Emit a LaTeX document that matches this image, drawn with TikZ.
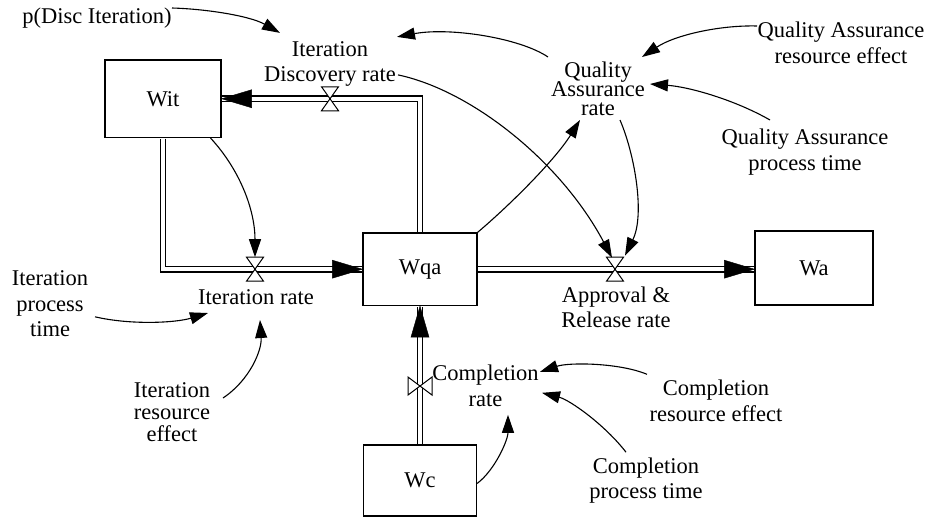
\documentclass[tikz,border=0pt]{standalone}
\usepackage{fontspec}
\setmainfont{Liberation Serif}
\usetikzlibrary{arrows.meta,calc}
\newcommand\mytightls{\lineskiplimit=-30pt\relax}
\tikzset{
  lbl/.style={inner sep=0pt, align=center, font=\fontsize{22.5pt}{26pt}\selectfont},
  stock/.style={draw, line width=1.2pt, inner sep=0pt, font=\fontsize{22.5pt}{26pt}\selectfont},
  pipe/.style={draw, double, double distance=4.5pt, line width=1.2pt, line join=miter, shorten <=0.6pt, shorten >=0.6pt},
  flowhead/.style={fill=black, draw=black, line width=0.4pt, line join=miter},
  link/.style={line width=1.1pt, -{Triangle[length=18pt,width=12pt]}},
  valvestyle/.style={draw, fill=white, line width=1pt, line join=miter},
  valveh/.pic={\draw[valvestyle] (-8.5,-12) -- (8.5,-12) -- (-8.5,12) -- (8.5,12) -- cycle;},
  valvev/.pic={\draw[valvestyle] (-12,-9) -- (-12,9) -- (12,-9) -- (12,9) -- cycle;}
}
\begin{document}
\begin{tikzpicture}[x=1pt,y=-1pt]
\useasboundingbox (0,0) rectangle (930,517);

% stocks
\node[stock, minimum width=116pt, minimum height=77.5pt] (wit) at (163,98.75) {Wit};
\node[stock, minimum width=114pt, minimum height=72.5pt] (wqa) at (420,269.2) {Wqa};
\node[stock, minimum width=118pt, minimum height=74pt] (wa) at (814,268) {Wa};
\node[stock, minimum width=113pt, minimum height=71pt] (wc) at (420,480.5) {Wc};

% valves positions
\coordinate (vd) at (330,98.75);
\coordinate (vi) at (255,269.2);
\coordinate (va) at (615,269.2);
\coordinate (vc) at (420,386);
\coordinate (waIn) at (wqa.east -| wa.west);

% pipes
\draw[pipe] (wqa.north) |- (wit.east);
\draw[pipe] (wit.south) |- (wqa.west);
\draw[pipe] (wqa.east) -- (waIn);
\draw[pipe] (wc.north) -- (wqa.south);

% flow arrowheads
\draw[flowhead] (wit.east) -- ($(wit.east)+(30,-9)$) -- ($(wit.east)+(30,9)$) -- cycle;
\draw[flowhead] (wqa.west) -- ($(wqa.west)+(-30,-9)$) -- ($(wqa.west)+(-30,9)$) -- cycle;
\draw[flowhead] (waIn) -- ($(waIn)+(-30,-9)$) -- ($(waIn)+(-30,9)$) -- cycle;
\draw[flowhead] (wqa.south) -- ($(wqa.south)+(-9,31)$) -- ($(wqa.south)+(9,31)$) -- cycle;

\pic at (vd) {valveh};
\pic at (vi) {valveh};
\pic at (va) {valveh};
\pic at (vc) {valvev};

% labels
\node[lbl] (pdisc) at (97,18) {p(Disc Iteration)};
\node[lbl, font=\fontsize{22.5pt}{25pt}\selectfont] (idr) at (330,63.9) {Iteration\\Discovery rate};
\node[lbl, font=\fontsize{22.5pt}{19pt}\selectfont\mytightls] (qar) at (598,88.5) {Quality\\Assurance\\rate};
\node[lbl] (qare) at (841,42.5) {Quality Assurance\\resource effect};
\node[lbl] (qapt) at (805,152.5) {Quality Assurance\\process time};
\node[lbl] (ir) at (256,297.5) {Iteration rate};
\node[lbl, font=\fontsize{22.5pt}{25.5pt}\selectfont] (ipt) at (50,303.8) {Iteration\\process\\time};
\node[lbl, font=\fontsize{22.5pt}{21.7pt}\selectfont\mytightls] (ire) at (172,412) {Iteration\\resource\\effect};
\node[lbl, font=\fontsize{22.5pt}{25.3pt}\selectfont] (arr) at (616,307.6) {Approval \&\\Release rate};
\node[lbl, font=\fontsize{22.5pt}{26.2pt}\selectfont] (cr) at (485.5,385.8) {Completion\\rate};
\node[lbl] (cre) at (716,400.3) {Completion\\resource effect};
\node[lbl, font=\fontsize{22.5pt}{25pt}\selectfont] (cpt) at (646,480.2) {Completion\\process time};

% information links
\draw[link] ($(pdisc)+(75,-10)$) .. controls (207,9) and (250,16) .. ($(idr)+(-50,-31)$);
\draw[link] ($(qar)+(-50,-31.5)$) .. controls (520,38) and (450,27) .. ($(idr)+(67,-27)$);
\draw[link] ($(idr)+(68,11)$) .. controls (470,90) and (560,160) .. ($(va)+(-3,-11.5)$);
\draw[link] (wqa.north east) .. controls (510,205) and (555,160) .. ($(qar)+(-18,31.5)$);
\draw[link] ($(qar)+(22,31.5)$) .. controls (635,155) and (645,215) .. ($(va)+(10,-13.5)$);
\draw[link] ($(qare)+(-84,-16.5)$) .. controls (720,25) and (675,35) .. ($(qar)+(44,-31.5)$);
\draw[link] ($(qapt)+(-35,-32.5)$) .. controls (735,100) and (690,87) .. ($(qar)+(52,-4.5)$);
\draw[link] ($(wit.south east)+(-11,0)$) .. controls (240,170) and (255,210) .. ($(vi)+(0,-12)$);
\draw[link] ($(ipt)+(45,13)$) .. controls (130,325) and (175,323) .. ($(ir)+(-48,15.5)$);
\draw[link] ($(ire)+(51,-14)$) .. controls (250,380) and (262,350) .. ($(ir)+(4,22.5)$);
\draw[link] ($(wc.east)+(0,3)$) .. controls (495,470) and (508,440) .. ($(cr)+(22.5,29)$);
\draw[link] ($(cre)+(-69,-26)$) .. controls (620,363) and (570,362) .. ($(cr)+(54.5,-14)$);
\draw[link] ($(cpt)+(-20,-28)$) .. controls (605,425) and (570,400) .. ($(cr)+(56.5,7)$);
\end{tikzpicture}
\end{document}
